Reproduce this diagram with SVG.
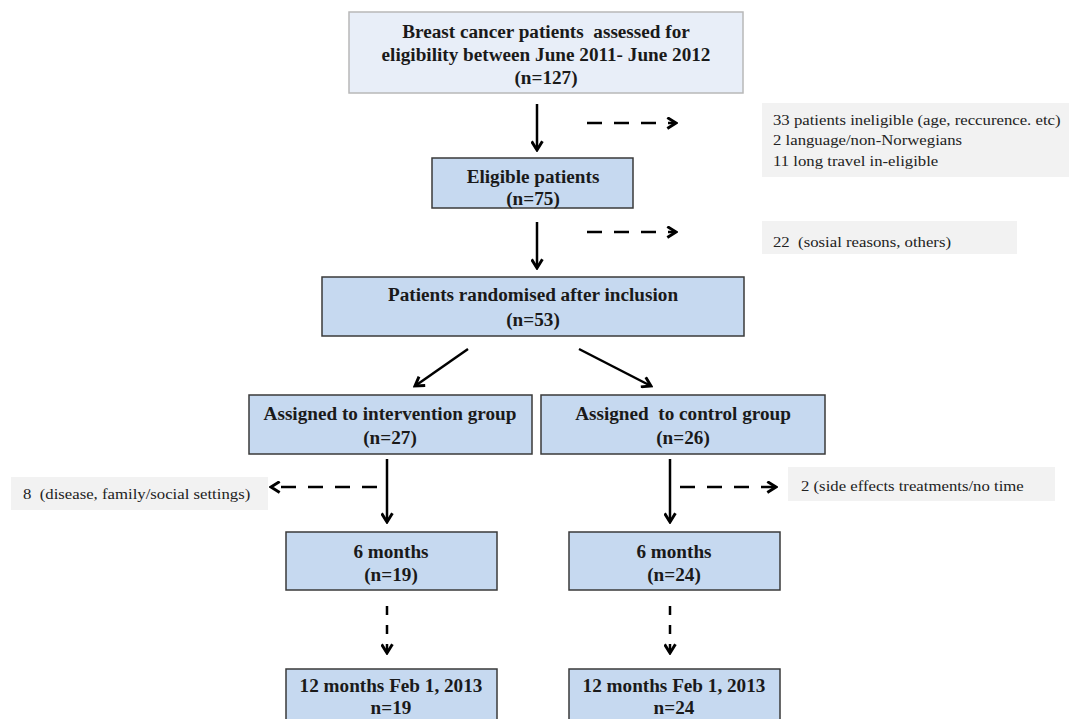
<svg xmlns="http://www.w3.org/2000/svg" width="1069" height="719" viewBox="0 0 1069 719">
  <style>
    .box { fill: #c6d9f0; stroke: #3a3a3a; stroke-width: 1.5; }
    .topbox { fill: #e8eef8; stroke: #b8b8b8; stroke-width: 1.5; }
    .note { fill: #f2f2f2; stroke: none; }
    .bt { font-family: "Liberation Serif", "Times New Roman", serif; font-weight: bold; font-size: 19.2px; fill: #1a1a1a; text-anchor: middle; white-space: pre; }
    .nt { font-family: "Liberation Serif", "Times New Roman", serif; font-size: 15.5px; fill: #222; white-space: pre; }
    .solid { stroke: #000; stroke-width: 2.5; fill: none; }
    .dash { stroke: #000; stroke-width: 2.5; fill: none; stroke-dasharray: 15 12; }
    .vdash { stroke: #000; stroke-width: 2.5; fill: none; stroke-dasharray: 9 10; }
  </style>
  <defs>
    <marker id="ah" viewBox="0 0 12 12" refX="10" refY="6" markerWidth="13" markerHeight="13" markerUnits="userSpaceOnUse" orient="auto">
      <path d="M2,1 L10,6 L2,11" fill="none" stroke="#000" stroke-width="2.7"/>
    </marker>
  </defs>
  <rect width="1069" height="719" fill="#ffffff"/>

  <g id="assessed">
    <rect class="topbox" x="349" y="12" width="394" height="81"/>
    <text class="bt" x="546" y="37.5">Breast cancer patients  assessed for</text>
    <text class="bt" x="546" y="60.5">eligibility between June 2011- June 2012</text>
    <text class="bt" x="546" y="84">(n=127)</text>
  </g>

  <g id="excluded1">
    <rect class="note" x="762" y="103" width="307" height="74"/>
    <text class="nt" transform="translate(773,124.5) scale(1.08,1)">33 patients ineligible (age, reccurence. etc)</text>
    <text class="nt" transform="translate(773,145) scale(1.08,1)">2 language/non-Norwegians</text>
    <text class="nt" transform="translate(773,165.5) scale(1.08,1)">11 long travel in-eligible</text>
  </g>

  <g id="eligible">
    <rect class="box" x="432" y="158" width="201" height="50"/>
    <text class="bt" x="533" y="182.5">Eligible patients</text>
    <text class="bt" x="533" y="204.5">(n=75)</text>
  </g>

  <g id="excluded2">
    <rect class="note" x="762" y="221" width="255" height="33"/>
    <text class="nt" transform="translate(773,246.5) scale(1.08,1)">22  (sosial reasons, others)</text>
  </g>

  <g id="randomised">
    <rect class="box" x="322" y="277" width="422" height="59"/>
    <text class="bt" x="533" y="300.5">Patients randomised after inclusion</text>
    <text class="bt" x="533" y="325.5">(n=53)</text>
  </g>

  <g id="intervention">
    <rect class="box" x="249" y="395" width="283" height="59"/>
    <text class="bt" x="390" y="419.5">Assigned to intervention group</text>
    <text class="bt" x="390" y="443.5">(n=27)</text>
  </g>

  <g id="control">
    <rect class="box" x="541" y="395" width="284" height="59"/>
    <text class="bt" x="683" y="419.5">Assigned  to control group</text>
    <text class="bt" x="683" y="443.5">(n=26)</text>
  </g>

  <g id="excluded3">
    <rect class="note" x="11" y="477" width="257" height="33"/>
    <text class="nt" transform="translate(23,498.5) scale(1.08,1)">8  (disease, family/social settings)</text>
  </g>

  <g id="excluded4">
    <rect class="note" x="788" y="467" width="267" height="34"/>
    <text class="nt" transform="translate(801,490.5) scale(1.08,1)">2 (side effects treatments/no time</text>
  </g>

  <g id="int6">
    <rect class="box" x="286" y="532" width="211" height="58"/>
    <text class="bt" x="391" y="557.5">6 months</text>
    <text class="bt" x="391" y="580.5">(n=19)</text>
  </g>

  <g id="ctl6">
    <rect class="box" x="569" y="532" width="211" height="58"/>
    <text class="bt" x="674" y="557.5">6 months</text>
    <text class="bt" x="674" y="580.5">(n=24)</text>
  </g>

  <g id="int12">
    <rect class="box" x="286" y="669" width="211" height="60"/>
    <text class="bt" x="391" y="691.5">12 months Feb 1, 2013</text>
    <text class="bt" x="391" y="713.5">n=19</text>
  </g>

  <g id="ctl12">
    <rect class="box" x="569" y="669" width="211" height="60"/>
    <text class="bt" x="674" y="691.5">12 months Feb 1, 2013</text>
    <text class="bt" x="674" y="713.5">n=24</text>
  </g>

  <g id="connectors">
    <line class="solid" x1="537" y1="104" x2="537" y2="150" marker-end="url(#ah)"/>
    <line class="dash" x1="587" y1="123" x2="676" y2="123" marker-end="url(#ah)"/>
    <line class="solid" x1="537" y1="222" x2="537" y2="268" marker-end="url(#ah)"/>
    <line class="dash" x1="587" y1="232" x2="676" y2="232" marker-end="url(#ah)"/>
    <line class="solid" x1="468" y1="349" x2="415" y2="386" marker-end="url(#ah)"/>
    <line class="solid" x1="579" y1="349" x2="651" y2="386" marker-end="url(#ah)"/>
    <line class="solid" x1="387" y1="459" x2="387" y2="522" marker-end="url(#ah)"/>
    <line class="dash" x1="377" y1="487" x2="271" y2="487" marker-end="url(#ah)"/>
    <line class="solid" x1="670" y1="459" x2="670" y2="522" marker-end="url(#ah)"/>
    <line class="dash" x1="680" y1="487" x2="776" y2="487" marker-end="url(#ah)"/>
    <line class="vdash" x1="387" y1="606" x2="387" y2="653" marker-end="url(#ah)"/>
    <line class="vdash" x1="670" y1="606" x2="670" y2="653" marker-end="url(#ah)"/>
  </g>
</svg>
